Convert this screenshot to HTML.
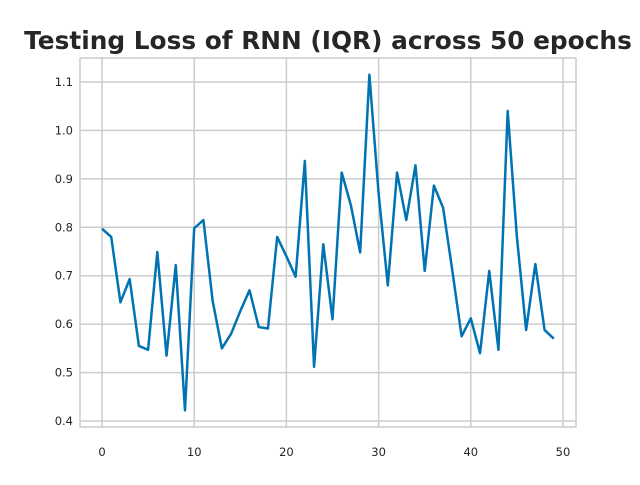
<!DOCTYPE html>
<html><head><meta charset="utf-8"><style>
body{margin:0;background:#fff;width:640px;height:480px;overflow:hidden}
text{font-family:"DejaVu Sans","Liberation Sans",sans-serif}
</style></head><body>
<svg id="chart" width="640" height="480" xmlns="http://www.w3.org/2000/svg">
<text x="328" y="49" text-anchor="middle" font-size="24.8" font-weight="bold" fill="#262626">Testing Loss of RNN (IQR) across 50 epochs</text>
<g id="grid"></g>
<g id="ticks"></g>
<polyline id="line" fill="none" stroke="#0173b2" stroke-width="2.5" stroke-linejoin="round"/>
<rect x="80" y="58" width="496" height="369" fill="none" stroke="#cccccc" stroke-width="1.5"/>
</svg>
<script>
const epochs=[...Array(50).keys()];
const loss=[0.797,0.78,0.645,0.693,0.555,0.547,0.749,0.535,0.722,0.422,0.798,0.815,0.648,0.55,0.58,0.627,0.67,0.594,0.591,0.78,0.74,0.698,0.937,0.512,0.765,0.61,0.913,0.845,0.748,1.115,0.87,0.68,0.913,0.815,0.928,0.71,0.886,0.84,0.71,0.575,0.612,0.54,0.71,0.547,1.04,0.78,0.588,0.724,0.588,0.57];
const xTicks=[0,10,20,30,40,50];
const yTicks=[0.4,0.5,0.6,0.7,0.8,0.9,1.0,1.1];
const X=v=>102+v*(563-102)/50;
const Y=v=>421-(v-0.4)*(421-82)/0.7;
const ns="http://www.w3.org/2000/svg";
const grid=document.getElementById('grid'),tk=document.getElementById('ticks');
xTicks.forEach(t=>{
 const l=document.createElementNS(ns,'line');
 
 
 l.setAttribute('x1',X(t));l.setAttribute('x2',X(t));l.setAttribute('y1',58);l.setAttribute('y2',427);
 l.setAttribute('stroke','#cccccc');l.setAttribute('stroke-width','1.5');grid.appendChild(l);
 const s=document.createElementNS(ns,'text');
 
 
 s.setAttribute('x',X(t));s.setAttribute('y',456);s.setAttribute('text-anchor','middle');s.setAttribute('font-size','11.5');s.setAttribute('fill','#262626');
 s.textContent=t;tk.appendChild(s);
});
yTicks.forEach(t=>{
 const l=document.createElementNS(ns,'line');
 
 
 l.setAttribute('x1',80);l.setAttribute('x2',576);l.setAttribute('y1',Y(t));l.setAttribute('y2',Y(t));
 l.setAttribute('stroke','#cccccc');l.setAttribute('stroke-width','1.5');grid.appendChild(l);
 const s=document.createElementNS(ns,'text');
 
 
 s.setAttribute('x',73);s.setAttribute('y',Y(t)+4);s.setAttribute('text-anchor','end');s.setAttribute('font-size','11.5');s.setAttribute('fill','#262626');
 s.textContent=t.toFixed(1);tk.appendChild(s);
});
document.getElementById('line').setAttribute('points',epochs.map((e,i)=>X(e)+','+Y(loss[i])).join(' '));
</script>
</body></html>
